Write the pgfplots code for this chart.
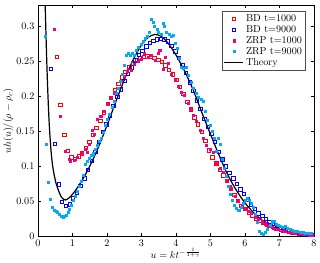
\documentclass[border=0pt]{standalone}
\usepackage{pgfplots}
\pgfplotsset{compat=1.18}
\begin{document}
\begin{tikzpicture}
\begin{axis}[
  scale only axis,
  width=272bp, height=228bp,
  xmin=0, xmax=8, ymin=0, ymax=0.33,
  xtick={0,1,2,3,4,5,6,7,8},
  ytick={0,0.05,0.1,0.15,0.2,0.25,0.3},
  yticklabels={0,0.05,0.1,0.15,0.2,0.25,0.3},
  tick align=inside,
  tick style={black, thin},
  major tick length=3pt,
  axis line style={black, thin},
  xlabel={$u = kt^{-\frac{1}{1+\gamma}}$},
  ylabel={$uh(u)/(\rho-\rho_c)$},
  xlabel style={yshift=5pt},
  ylabel style={yshift=-4pt},
  legend style={at={(0.97,0.975)}, anchor=north east, draw=black!70, font=\normalsize, inner sep=1.5pt, row sep=-1.5pt, cells={anchor=west}},
  legend image post style={xscale=1.1},
  legend cell align=left,
]
\addplot[only marks, mark=square, mark size=1.7pt, draw=red, mark options={line width=0.7pt, fill=red!15}] coordinates {
(0.55,0.256)(0.65,0.188)(0.76,0.145)(0.86,0.122)(0.97,0.113)(1.07,0.111)(1.18,0.114)(1.28,0.119)(1.39,0.126)(1.49,0.135)
(1.60,0.145)(1.70,0.155)(1.81,0.165)(1.91,0.177)(2.02,0.189)(2.12,0.198)(2.23,0.209)(2.33,0.218)(2.44,0.227)(2.54,0.235)
(2.65,0.241)(2.75,0.247)(2.86,0.252)(2.96,0.255)(3.07,0.256)(3.17,0.257)(3.28,0.256)(3.38,0.255)(3.49,0.252)(3.59,0.249)
(3.70,0.244)(3.80,0.238)(3.91,0.231)(4.01,0.223)(4.12,0.213)(4.22,0.203)(4.33,0.192)(4.43,0.181)(4.54,0.170)(4.64,0.160)
(4.75,0.149)(4.85,0.136)(4.96,0.123)(5.06,0.113)(5.17,0.104)(5.27,0.095)(5.38,0.087)(5.48,0.079)(5.59,0.068)(5.69,0.059)
(5.80,0.051)(5.90,0.044)(6.01,0.039)(6.11,0.034)(6.22,0.030)(6.32,0.026)(6.43,0.023)(6.53,0.020)(6.64,0.017)(6.74,0.015)
(6.85,0.013)(6.95,0.011)(7.06,0.010)(7.16,0.008)(7.27,0.007)(7.37,0.006)(7.48,0.005)(7.58,0.004)(7.69,0.004)(7.79,0.003)(7.90,0.003)
};
\addlegendentry{BD t$=$1000}
\addplot[only marks, mark=square, mark size=1.7pt, draw=blue, mark options={line width=0.7pt, fill=blue!10}] coordinates {
(0.38,0.239)(0.49,0.132)(0.60,0.074)(0.70,0.049)(0.81,0.044)(0.92,0.046)(1.02,0.054)(1.13,0.062)(1.23,0.072)(1.35,0.083)
(1.44,0.095)(1.56,0.108)(1.67,0.121)(1.77,0.135)(1.88,0.149)(1.98,0.160)(2.09,0.173)(2.19,0.186)(2.30,0.199)(2.40,0.210)
(2.51,0.222)(2.61,0.232)(2.72,0.241)(2.82,0.251)(2.93,0.259)(3.03,0.265)(3.14,0.271)(3.24,0.276)(3.35,0.279)(3.45,0.281)
(3.56,0.282)(3.66,0.281)(3.77,0.278)(3.87,0.272)(3.98,0.264)(4.08,0.255)(4.19,0.245)(4.29,0.233)(4.40,0.220)(4.50,0.208)
(4.61,0.194)(4.71,0.182)(4.82,0.168)(4.92,0.156)(5.03,0.146)(5.13,0.135)(5.24,0.121)(5.34,0.110)(5.45,0.100)(5.55,0.091)
(5.66,0.083)(5.76,0.075)(5.87,0.067)(5.97,0.061)(6.08,0.053)(6.18,0.046)(6.29,0.039)(6.39,0.033)(6.50,0.029)(6.60,0.025)
(6.71,0.021)(6.81,0.018)(6.92,0.015)(7.02,0.013)(7.13,0.011)(7.23,0.009)(7.34,0.007)(7.44,0.006)(7.55,0.005)(7.65,0.004)
(7.76,0.003)(7.86,0.003)(7.97,0.002)
};
\addlegendentry{BD t$=$9000}
\addplot[only marks, mark=square*, mark size=1.0pt, color=magenta] coordinates {
(0.47,0.296)(0.64,0.172)(0.79,0.122)(0.90,0.110)(0.94,0.107)(1.05,0.109)(1.15,0.113)(1.27,0.118)(1.38,0.124)(1.42,0.120)
(1.48,0.132)(1.57,0.151)(1.63,0.146)(1.73,0.167)(1.82,0.172)(1.91,0.179)(2.01,0.188)(2.11,0.197)(2.21,0.204)(2.31,0.212)
(2.41,0.222)(2.50,0.229)(2.60,0.235)(2.70,0.237)(2.80,0.245)(2.90,0.250)(3.00,0.253)(3.09,0.261)(3.19,0.256)(3.29,0.258)
(3.39,0.252)(3.48,0.262)(3.53,0.266)(3.62,0.239)(3.68,0.255)(3.77,0.247)(3.87,0.232)(3.97,0.223)(4.06,0.214)(4.16,0.206)
(4.25,0.201)(4.35,0.190)(4.40,0.182)(4.50,0.173)(4.59,0.165)(4.69,0.152)(4.78,0.140)(4.88,0.130)(4.98,0.124)(5.08,0.120)
(5.17,0.105)(5.27,0.098)(5.37,0.091)(5.47,0.080)(5.56,0.072)(5.61,0.067)(5.71,0.058)(5.81,0.050)(5.91,0.044)(6.00,0.039)
(6.10,0.036)(6.19,0.033)(6.29,0.028)(6.39,0.025)(6.49,0.020)(6.58,0.018)(6.68,0.015)(6.78,0.013)(6.88,0.011)(6.97,0.010)
(7.07,0.008)(7.17,0.007)(7.27,0.006)(7.37,0.005)(7.46,0.004)(7.56,0.004)(7.66,0.003)(7.76,0.003)(7.86,0.002)(7.95,0.002)
};
\addlegendentry{ZRP t$=$1000}
\addplot[only marks, mark=square*, mark size=1.0pt, color=cyan] coordinates {
(0.21,0.286)(0.25,0.132)(0.31,0.077)(0.36,0.053)(0.42,0.041)(0.47,0.038)(0.52,0.036)(0.57,0.034)(0.62,0.032)(0.67,0.029)
(0.72,0.028)(0.77,0.029)(0.82,0.030)(0.87,0.034)(0.92,0.039)(0.97,0.045)(1.03,0.052)(1.08,0.058)(1.15,0.065)(1.20,0.072)
(1.25,0.079)(1.31,0.088)(1.38,0.103)(1.44,0.108)(1.49,0.112)(1.55,0.116)(1.61,0.118)(1.67,0.124)(1.73,0.130)(1.78,0.136)
(1.84,0.140)(1.90,0.148)(1.96,0.158)(2.02,0.167)(2.08,0.175)(2.14,0.184)(2.20,0.193)(2.26,0.204)(2.32,0.212)(2.38,0.222)
(2.44,0.232)(2.50,0.244)(2.56,0.258)(2.62,0.262)(2.68,0.259)(2.74,0.262)(2.80,0.258)(2.86,0.266)(2.92,0.270)(2.98,0.274)
(3.04,0.279)(3.10,0.283)(3.16,0.286)(3.22,0.292)(3.28,0.310)(3.33,0.305)(3.38,0.300)(3.45,0.295)(3.50,0.291)(3.56,0.288)
(3.62,0.304)(3.67,0.300)(3.73,0.292)(3.80,0.289)(3.86,0.286)(3.92,0.287)(3.98,0.276)(4.04,0.268)(4.10,0.254)(4.16,0.242)
(4.22,0.240)(4.30,0.242)(4.36,0.230)(4.44,0.220)(4.50,0.212)(4.58,0.204)(4.64,0.198)(4.72,0.196)(4.79,0.193)(4.85,0.178)
(4.92,0.166)(4.98,0.158)(5.04,0.150)(5.10,0.140)(5.16,0.122)(5.22,0.140)(5.28,0.132)(5.34,0.110)(5.40,0.098)(5.46,0.086)
(5.52,0.072)(5.58,0.060)(5.64,0.052)(5.70,0.045)(5.76,0.040)(5.82,0.038)(5.88,0.042)(5.94,0.048)(6.00,0.052)(6.06,0.055)
(6.12,0.052)(6.18,0.048)(6.24,0.042)(6.30,0.032)(6.36,0.020)(6.42,0.008)(6.48,0.004)(6.54,0.003)(6.60,0.006)(6.66,0.010)
(6.72,0.016)(6.78,0.021)(6.84,0.022)(6.90,0.018)(6.96,0.016)(7.02,0.014)(7.10,0.013)(7.16,0.014)(7.22,0.012)(7.30,0.010)
(7.36,0.009)(7.44,0.008)(7.52,0.007)(7.60,0.006)(7.68,0.006)(7.76,0.005)(7.84,0.005)(7.92,0.004)
};
\addlegendentry{ZRP t$=$9000}
\addplot[black, line width=1.2pt, smooth, no marks] coordinates {
(0.21,0.33)(0.25,0.26)(0.28,0.215)(0.31,0.178)(0.34,0.150)(0.38,0.122)(0.42,0.103)(0.47,0.088)(0.53,0.075)(0.60,0.065)
(0.67,0.057)(0.74,0.053)(0.80,0.052)(0.88,0.054)(1.00,0.060)(1.15,0.070)(1.35,0.086)(1.55,0.105)(1.75,0.127)(2.00,0.158)
(2.25,0.191)(2.50,0.223)(2.75,0.251)(3.00,0.273)(3.20,0.284)(3.38,0.288)(3.55,0.286)(3.75,0.277)(4.00,0.259)(4.25,0.236)
(4.50,0.209)(4.75,0.177)(5.00,0.146)(5.25,0.116)(5.50,0.088)(5.75,0.066)(6.00,0.048)(6.25,0.034)(6.50,0.023)(6.75,0.015)
(7.00,0.010)(7.25,0.0065)(7.50,0.004)(7.75,0.0025)(8.00,0.0015)
};
\addlegendentry{Theory}
\end{axis}
\path (current axis.north east) ++(6bp,5bp);
\end{tikzpicture}
\end{document}
